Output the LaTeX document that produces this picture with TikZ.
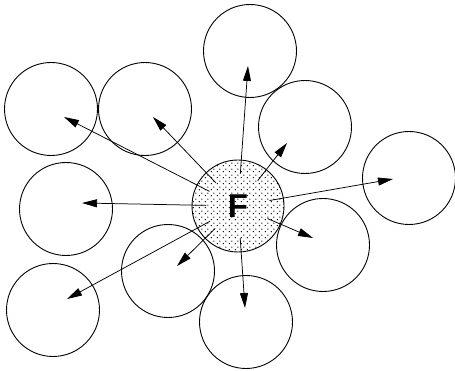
\documentclass[tikz,border=0pt]{standalone}
\usepackage{fontspec}
\newfontfamily\labelfont{Liberation Sans}
\usetikzlibrary{arrows.meta,calc,patterns}

\pgfdeclarepatternformonly{sparsedots}{\pgfqpoint{0pt}{0pt}}{\pgfqpoint{6pt}{6pt}}{\pgfqpoint{6pt}{6pt}}{%
  \pgfpathcircle{\pgfqpoint{1.5pt}{1.5pt}}{0.8pt}%
  \pgfpathcircle{\pgfqpoint{4.5pt}{4.5pt}}{0.8pt}%
  \pgfusepath{fill}}

\tikzset{
  cell/.style  ={draw=black,circle,line width=0.9pt,minimum size=93pt,inner sep=0pt},
  fcell/.style ={cell,minimum size=92pt,pattern=sparsedots,
                 font=\labelfont\bfseries\fontsize{33}{33}\selectfont},
  push/.style  ={-{Triangle[length=15pt,width=8pt]},line width=0.75pt},
}

\begin{document}
\begin{tikzpicture}[x=1pt,y=-1pt]
\useasboundingbox (0,0) rectangle (455,371);
\node[fcell] (F) at (238,206) {F};
% neighbours and where each push lands
\foreach \n/\p/\t in {c1/{51,109}/{64,117},  c2/{145,109}/{153,117},
                      c3/{66,209}/{82,203},   c4/{53,310}/{67,299},
                      c5/{168,271}/{177,266}, c6/{246,322}/{245,308},
                      c7/{250,51}/{248,66},   c8/{305,127}/{287,143},
                      c9/{409,178}/{393,179}, c10/{323,245}/{313,238}} {
  \node[cell] (\n) at (\p) {};
  \coordinate (t\n) at (\t);
  \draw[push] ($(F.center)!32pt!(t\n)$) -- (t\n);
}
\end{tikzpicture}
\end{document}
